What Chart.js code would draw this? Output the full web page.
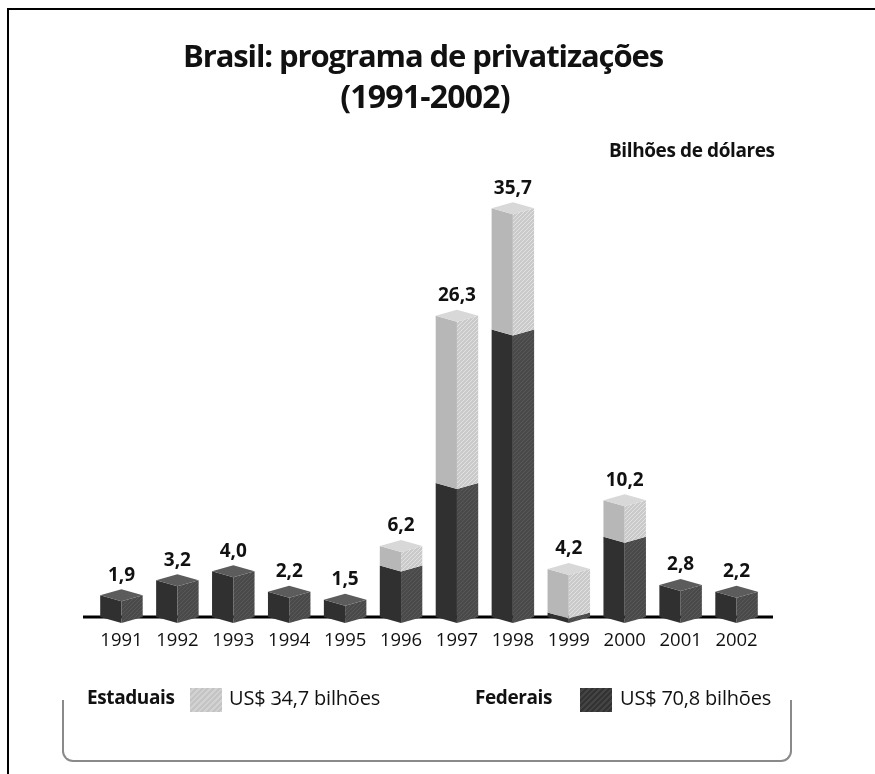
<!DOCTYPE html>
<html>
<head>
<meta charset="utf-8">
<script src="https://cdn.jsdelivr.net/npm/chart.js@4/dist/chart.umd.min.js"></script>
<style>
  html, body { margin: 0; padding: 0; background: #fff; }
  body { width: 875px; height: 774px; position: relative; overflow: hidden; font-family: "Open Sans", "Noto Sans", sans-serif; color: #111; }
  #frameTop { position: absolute; left: 7px; top: 8px; width: 868px; height: 2px; background: #000; }
  #frameLeft { position: absolute; left: 7px; top: 8px; width: 2px; height: 766px; background: #000; }
  #chartWrap { position: absolute; left: 0; top: 0; width: 875px; height: 774px; }
  .t { position: absolute; white-space: nowrap; }
  #title1 { left: 0; width: 846px; text-align: center; top: 34px; font-size: 31px; font-weight: 700; letter-spacing: -1.1px; }
  #title2 { left: 0; width: 850px; text-align: center; top: 74px; font-size: 32px; font-weight: 700; letter-spacing: -0.8px; }
  #unit { left: 609px; top: 137px; font-size: 19px; font-weight: 700; letter-spacing: -0.4px; }
  .lgLab { top: 684px; font-size: 19px; font-weight: 700; letter-spacing: -0.4px; }
  .lgTxt { top: 684px; font-size: 20px; font-weight: 400; letter-spacing: -0.2px; }
  .sw { position: absolute; top: 688px; width: 32px; height: 24px; }
  #bracket { position: absolute; left: 62px; top: 700px; width: 726px; height: 60px; border: 2px solid #8a8a8a; border-top: none; border-radius: 0 0 11px 11px; }
</style>
</head>
<body>
<div id="frameTop"></div>
<div id="frameLeft"></div>
<div id="chartWrap"><canvas id="c" width="875" height="774"></canvas></div>
<div class="t" id="title1">Brasil: programa de privatizações</div>
<div class="t" id="title2">(1991-2002)</div>
<div class="t" id="unit">Bilhões de dólares</div>
<div id="bracket"></div>
<div class="t lgLab" style="left:87px">Estaduais</div>
<div class="sw" id="swEst" style="left:190px"></div>
<div class="t lgTxt" style="left:229px">US$ 34,7 bilhões</div>
<div class="t lgLab" style="left:475px">Federais</div>
<div class="sw" id="swFed" style="left:580px"></div>
<div class="t lgTxt" style="left:620px">US$ 70,8 bilhões</div>
<script>
// ---- data ----
const years = ["1991","1992","1993","1994","1995","1996","1997","1998","1999","2000","2001","2002"];
const federais  = [1.9, 3.2, 4.0, 2.2, 1.5, 4.5, 11.7, 25.1, 0.4, 7.0, 2.8, 2.2];
const estaduais = [0,   0,   0,   0,   0,   1.7, 14.6, 10.6, 3.8, 3.2, 0,   0];
const seriesNames = ["Federais", "Estaduais"];

// ---- styles ----
const FACE = {
  fed: { left: "#303030", right: "#4a4a4a", top: "#5c5c5c", hatch: "rgba(110,110,110,0.4)" },
  est: { left: "#b7b7b7", right: "#cacaca", top: "#d8d8d8", hatch: "rgba(255,255,255,0.45)" }
};
function hatchPattern(ctx, base, line) {
  const p = document.createElement("canvas");
  p.width = 4; p.height = 4;
  const g = p.getContext("2d");
  g.fillStyle = base; g.fillRect(0, 0, 4, 4);
  g.strokeStyle = line; g.lineWidth = 1;
  g.beginPath(); g.moveTo(0, 4); g.lineTo(4, 0); g.stroke();
  return ctx.createPattern(p, "repeat");
}
document.getElementById("swEst").style.background = "repeating-linear-gradient(135deg,#c4c4c4 0 2px,#d2d2d2 2px 4px)";
document.getElementById("swFed").style.background = "repeating-linear-gradient(135deg,#333 0 2px,#444 2px 4px)";

const DEPTH = 6;
const box3d = {
  id: "box3d",
  beforeDatasetsDraw(chart) {
    const ctx = chart.ctx;
    const y0 = chart.scales.y.getPixelForValue(0);
    ctx.save();
    ctx.strokeStyle = "#000";
    ctx.lineWidth = 3;
    ctx.beginPath();
    ctx.moveTo(83, y0);
    ctx.lineTo(773, y0);
    ctx.stroke();
    ctx.restore();
  },
  afterDatasetsDraw(chart) {
    const ctx = chart.ctx;
    const pats = {
      fed: hatchPattern(ctx, FACE.fed.right, FACE.fed.hatch),
      est: hatchPattern(ctx, FACE.est.right, FACE.est.hatch)
    };
    const keys = ["fed", "est"];
    const metas = [chart.getDatasetMeta(0), chart.getDatasetMeta(1)];
    ctx.save();
    for (let i = 0; i < years.length; i++) {
      let topEl = null, topKey = null;
      for (let d = 0; d < 2; d++) {
        const el = metas[d].data[i];
        const val = chart.data.datasets[d].data[i];
        if (!val) continue;
        const x = el.x, w = el.width, yT = el.y, yB = el.base;
        const c = FACE[keys[d]];
        ctx.fillStyle = c.left;
        ctx.beginPath();
        ctx.moveTo(x - w / 2, yT); ctx.lineTo(x, yT + DEPTH);
        ctx.lineTo(x, yB + DEPTH); ctx.lineTo(x - w / 2, yB);
        ctx.closePath(); ctx.fill();
        ctx.fillStyle = pats[keys[d]];
        ctx.beginPath();
        ctx.moveTo(x, yT + DEPTH); ctx.lineTo(x + w / 2, yT);
        ctx.lineTo(x + w / 2, yB); ctx.lineTo(x, yB + DEPTH);
        ctx.closePath(); ctx.fill();
        topEl = el; topKey = keys[d];
      }
      if (topEl) {
        const x = topEl.x, w = topEl.width, yT = topEl.y;
        ctx.fillStyle = FACE[topKey].top;
        ctx.beginPath();
        ctx.moveTo(x - w / 2, yT); ctx.lineTo(x, yT - DEPTH);
        ctx.lineTo(x + w / 2, yT); ctx.lineTo(x, yT + DEPTH);
        ctx.closePath(); ctx.fill();
        const total = federais[i] + estaduais[i];
        ctx.fillStyle = "#111";
        ctx.font = "700 19px 'Open Sans', sans-serif";
        ctx.textAlign = "center";
        ctx.textBaseline = "middle";
        ctx.fillText(total.toFixed(1).replace(".", ","), x, yT - DEPTH - 14);
      }
      const xl = chart.scales.x.getPixelForValue(i);
      ctx.fillStyle = "#111";
      ctx.font = "400 18.5px 'Open Sans', sans-serif";
      ctx.textAlign = "center";
      ctx.textBaseline = "middle";
      ctx.fillText(years[i], xl, 641);
    }
    ctx.restore();
  }
};

new Chart(document.getElementById("c"), {
  type: "bar",
  data: {
    labels: years,
    datasets: [
      { label: seriesNames[0], data: federais, backgroundColor: "rgba(0,0,0,0)", borderWidth: 0 },
      { label: seriesNames[1], data: estaduais, backgroundColor: "rgba(0,0,0,0)", borderWidth: 0 }
    ]
  },
  options: {
    responsive: false,
    animation: false,
    devicePixelRatio: 1,
    layout: { padding: { top: 159, bottom: 157, left: 93.5, right: 110.5 } },
    datasets: { bar: { barPercentage: 0.76, categoryPercentage: 1.0 } },
    plugins: { legend: { display: false }, title: { display: false }, tooltip: { enabled: false } },
    scales: {
      x: { stacked: true, display: false },
      y: { stacked: true, display: false, min: 0, max: 40 }
    }
  },
  plugins: [box3d]
});
</script>
</body>
</html>
